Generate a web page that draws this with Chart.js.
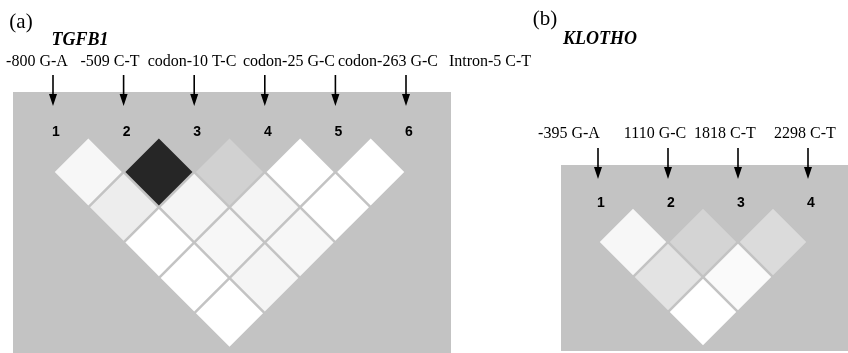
<!DOCTYPE html>
<html>
<head>
<meta charset="utf-8">
<script src="https://cdn.jsdelivr.net/npm/chart.js@4.4.1/dist/chart.umd.min.js"></script>
<style>
  body { margin: 0; background: #fff; }
  #wrap { position: relative; width: 848px; height: 353px; overflow: hidden; }
  canvas { position: absolute; top: 0; }
  #graficoA { left: 0; }
  #graficoB { left: 455px; }
</style>
</head>
<body>
<div id="wrap">
  <canvas id="graficoA" width="540" height="353"></canvas>
  <canvas id="graficoB" width="393" height="353"></canvas>
</div>
<script>
// (a) TGFB1
const snpsA = ['-800 G-A', '-509 C-T', 'codon-10 T-C', 'codon-25 G-C', 'codon-263 G-C', 'Intron-5 C-T'];
const numerosA = ['1', '2', '3', '4', '5', '6'];
// LD entre marcadores, fila d = pares separados por d posiciones
const ldA = [
    [0.03, 0.85, 0.18, 0.00, 0.00],
    [0.07, 0.04, 0.04, 0.00],
    [0.00, 0.03, 0.03],
    [0.00, 0.04],
    [0.00]
];

// (b) KLOTHO
const snpsB = ['-395 G-A', '1110 G-C', '1818 C-T', '2298 C-T'];
const numerosB = ['1', '2', '3', '4'];
const ldB = [
    [0.03, 0.17, 0.14],
    [0.11, 0.02],
    [0.00]
];

// blanco (0) -> negro (1)
function getGris(v) {
    const g = Math.round(255 * (1 - v));
    return `rgb(${g},${g},${g})`;
}

const medioPaso = (chart) => {
    const s = chart.scales.x;
    if (!s) return 30;
    return (s.getPixelForValue(1) - s.getPixelForValue(0)) / 2;
}

// fondo gris, flechas, numeros y textos
const fondoLD = (p) => ({
    id: 'fondoLD',
    beforeDraw(chart) {
        const { ctx, chartArea: c } = chart;
        ctx.save();
        ctx.fillStyle = '#c3c3c3';
        ctx.fillRect(c.left, c.top, c.right - c.left, c.bottom - c.top);
        ctx.restore();
    },
    afterDraw(chart) {
        const { ctx, chartArea: c, scales: { x, y } } = chart;
        ctx.save();
        ctx.fillStyle = '#000';
        ctx.strokeStyle = '#000';
        ctx.textAlign = 'center';
        ctx.textBaseline = 'middle';

        ctx.font = '21px "Liberation Serif"';
        ctx.fillText(p.letra, p.letraPos[0], p.letraPos[1]);
        ctx.font = 'italic bold 18px "Liberation Serif"';
        ctx.fillText(p.gen, p.genPos[0], p.genPos[1]);

        ctx.font = '16px "Liberation Serif"';
        p.snps.forEach((s, i) => ctx.fillText(s, p.etiquetaX[i], p.etiquetaY));

        p.numeros.forEach((num, i) => {
            const px = x.getPixelForValue(i + 1);
            ctx.lineWidth = 1.6;
            ctx.beginPath();
            ctx.moveTo(px, c.top - 17);
            ctx.lineTo(px, c.top + 4);
            ctx.stroke();
            ctx.beginPath();
            ctx.moveTo(px - 4, c.top + 2);
            ctx.lineTo(px + 4, c.top + 2);
            ctx.lineTo(px, c.top + 14);
            ctx.closePath();
            ctx.fill();

            ctx.font = 'bold 14px "Liberation Sans"';
            ctx.fillText(num, px + 3, y.getPixelForValue(-0.12));
        });
        ctx.restore();
    }
});

const crearGrafica = (id, p) => {
    const n = p.snps.length;
    const puntos = [];
    p.ld.forEach((fila, d) => {
        fila.forEach((v, i) => {
            puntos.push({ x: i + 1 + (d + 1) / 2, y: d + 1, v: v });
        });
    });

    const canvas = document.getElementById(id);
    const W = canvas.width;
    const H = canvas.height;
    const a = p.area;
    const ultimo = p.x0 + (n - 1) * p.paso;

    return new Chart(canvas, {
        type: 'scatter',
        data: {
            datasets: [{
                data: puntos,
                pointStyle: 'rectRot',
                pointRadius: ctx => medioPaso(ctx.chart) * 0.95,
                pointHoverRadius: ctx => medioPaso(ctx.chart) * 0.95,
                pointBackgroundColor: ctx => ctx.raw ? getGris(ctx.raw.v) : '#fff',
                pointBorderWidth: 0,
                pointHoverBorderWidth: 0
            }]
        },
        options: {
            responsive: false,
            animation: false,
            events: [],
            layout: {
                padding: { left: a.left, top: a.top, right: W - a.right, bottom: H - a.bottom }
            },
            scales: {
                x: {
                    type: 'linear', display: false,
                    min: 1 - (p.x0 - a.left) / p.paso,
                    max: n + (a.right - ultimo) / p.paso
                },
                y: {
                    type: 'linear', display: false, reverse: true,
                    min: 1 - (p.fila0 - a.top) / (p.paso / 2),
                    max: 1 + (a.bottom - p.fila0) / (p.paso / 2)
                }
            },
            plugins: {
                legend: { display: false },
                tooltip: { enabled: false }
            }
        },
        plugins: [fondoLD(p)]
    });
}

window.graficaTGFB1 = crearGrafica('graficoA', {
    letra: '(a)', gen: 'TGFB1', snps: snpsA, numeros: numerosA, ld: ldA,
    area: { left: 13, top: 92, right: 451, bottom: 353 },
    x0: 53, paso: 70.6, fila0: 172,
    letraPos: [21, 22], genPos: [80, 40],
    etiquetaY: 62, etiquetaX: [37, 110, 192, 289, 388, 490]
});

window.graficaKLOTHO = crearGrafica('graficoB', {
    letra: '(b)', gen: 'KLOTHO', snps: snpsB, numeros: numerosB, ld: ldB,
    area: { left: 106, top: 165, right: 393, bottom: 351 },
    x0: 143, paso: 70, fila0: 242,
    letraPos: [90, 19], genPos: [145, 39],
    etiquetaY: 134, etiquetaX: [114, 200, 270, 350]
});
</script>
</body>
</html>
